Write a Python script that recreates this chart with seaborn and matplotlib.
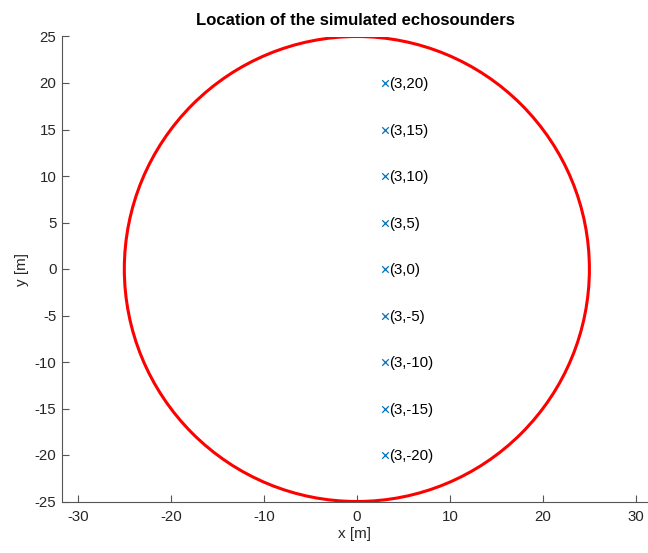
import matplotlib
matplotlib.use("Agg")
import matplotlib.pyplot as plt
from matplotlib.patches import Circle
import seaborn as sns
import pandas as pd

# Echosounder positions (metres)
sounder_x = [3, 3, 3, 3, 3, 3, 3, 3, 3]
sounder_y = [20, 15, 10, 5, 0, -5, -10, -15, -20]

# Boundary of the simulated area
circle_center = (0, 0)
circle_radius = 25

x_ticks = [-30, -20, -10, 0, 10, 20, 30]
y_ticks = [-25, -20, -15, -10, -5, 0, 5, 10, 15, 20, 25]

sns.set_style("white")
plt.rcParams["font.family"] = ["Liberation Sans", "DejaVu Sans"]
plt.rcParams["axes.unicode_minus"] = False

df = pd.DataFrame({"x": sounder_x, "y": sounder_y})

fig = plt.figure(figsize=(6.48, 5.53), dpi=100)
ax = fig.add_axes([62 / 648, 51.5 / 553, (648 - 62) / 648, (501.5 - 36.5) / 553])

ax.add_patch(Circle(circle_center, circle_radius, fill=False,
                    edgecolor="#ff0000", linewidth=2.2))

sns.scatterplot(data=df, x="x", y="y", marker="x", color="#0072BD",
                s=22, linewidth=0.9, ax=ax, zorder=3)

for xv, yv in zip(sounder_x, sounder_y):
    ax.text(xv + 0.45, yv - 0.15, f"({xv},{yv})", fontsize=10.8,
            color="#000000", va="center", ha="left")

ax.set_xlim(-31.7, 31.3)
ax.set_ylim(-25, 25)
ax.set_xticks(x_ticks)
ax.set_yticks(y_ticks)

for side in ("top", "right"):
    ax.spines[side].set_visible(False)
for side in ("left", "bottom"):
    ax.spines[side].set_color("#555555")
    ax.spines[side].set_linewidth(0.8)

ax.tick_params(axis="both", direction="in", length=5, width=0.8,
               bottom=True, left=True,
               color="#555555", labelcolor="#262626", labelsize=10.8)
ax.tick_params(axis="x", pad=6)
ax.tick_params(axis="y", pad=4)

ax.set_xlabel("x [m]", fontsize=11, color="#262626", labelpad=2)
ax.set_ylabel("y [m]", fontsize=11, color="#262626", labelpad=4)
ax.set_title("Location of the simulated echosounders", fontsize=12,
             fontweight="bold", color="#000000", pad=8)

fig.savefig("out.png", dpi=100)
